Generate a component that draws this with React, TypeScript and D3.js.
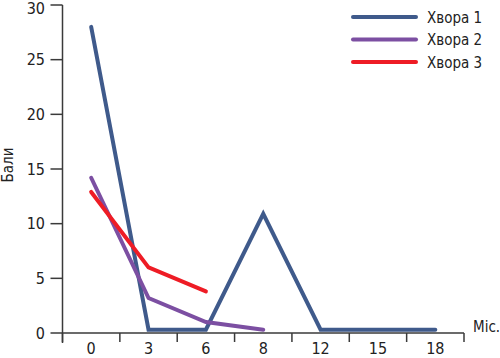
import React from "react";
import * as d3 from "d3";

const months = ["0", "3", "6", "8", "12", "15", "18"];
const patient1 = [28, 0.3, 0.3, 10.9, 0.3, 0.3, 0.3];
const patient2 = [14.2, 3.2, 1.0, 0.3];
const patient3 = [12.9, 6.0, 3.8];
const seriesNames = ["Хвора 1", "Хвора 2", "Хвора 3"];
const seriesColors = ["#3f5a8b", "#7c4fa2", "#ee1c25"];
const yTicks = [0, 5, 10, 15, 20, 25, 30];

const W = 500, H = 358;
const left = 62.5, right = 464, top = 5, bottom = 333;
const font = "'DejaVu Sans Condensed', 'Liberation Sans', Arial, sans-serif";

export default function App() {
  const x = d3.scaleBand<string>().domain(months).range([left, right]);
  const y = d3.scaleLinear().domain([0, 30]).range([bottom, top]);
  const line = d3
    .line<number>()
    .x((_, i) => (x(months[i]) as number) + x.bandwidth() / 2)
    .y((d) => y(d));
  const series = [patient1, patient2, patient3];
  const axisColor = "#3a3a3a";
  const tickPositions = months.map((m) => x(m) as number).concat([right]);

  return (
    <svg width={W} height={H} style={{ position: "absolute", left: 0, top: 0, background: "#fff" }}>
      {/* y axis */}
      <line x1={left} x2={left} y1={top} y2={bottom + 10} stroke={axisColor} strokeWidth={1.5} />
      {yTicks.map((t) => (
        <g key={t}>
          <line x1={left - 12} x2={left} y1={y(t)} y2={y(t)} stroke={axisColor} strokeWidth={1.5} />
          <text
            x={45}
            y={Math.max(y(t) + 5.8, 13.5)}
            textAnchor="end"
            fontSize={16}
            fontFamily={font}
            fill="#222"
          >
            {t}
          </text>
        </g>
      ))}
      <text
        transform={`translate(13,165) rotate(-90)`}
        textAnchor="middle"
        fontSize={15}
        fontFamily={font}
        fill="#222"
      >
        Бали
      </text>
      {/* x axis */}
      <line x1={left} x2={right} y1={bottom} y2={bottom} stroke={axisColor} strokeWidth={1.5} />
      {tickPositions.map((p, i) => (
        <line key={i} x1={p} x2={p} y1={bottom} y2={bottom + 9} stroke={axisColor} strokeWidth={1.5} />
      ))}
      {months.map((m) => (
        <text
          key={m}
          x={(x(m) as number) + x.bandwidth() / 2}
          y={354}
          textAnchor="middle"
          fontSize={16}
          fontFamily={font}
          fill="#222"
        >
          {m}
        </text>
      ))}
      <text x={473} y={332} fontSize={15} fontFamily={font} fill="#222">
        Міс.
      </text>
      {/* lines */}
      {series.map((s, i) => (
        <path
          key={i}
          d={line(s) as string}
          fill="none"
          stroke={seriesColors[i]}
          strokeWidth={4}
          strokeLinecap="round"
          strokeLinejoin="miter"
        />
      ))}
      {/* legend */}
      {seriesNames.map((n, i) => (
        <g key={n}>
          <line
            x1={353}
            x2={416}
            y1={17 + i * 22.5}
            y2={17 + i * 22.5}
            stroke={seriesColors[i]}
            strokeWidth={4}
            strokeLinecap="round"
          />
          <text x={427} y={17 + i * 22.5 + 5.5} fontSize={15} fontFamily={font} fill="#222">
            {n}
          </text>
        </g>
      ))}
    </svg>
  );
}
